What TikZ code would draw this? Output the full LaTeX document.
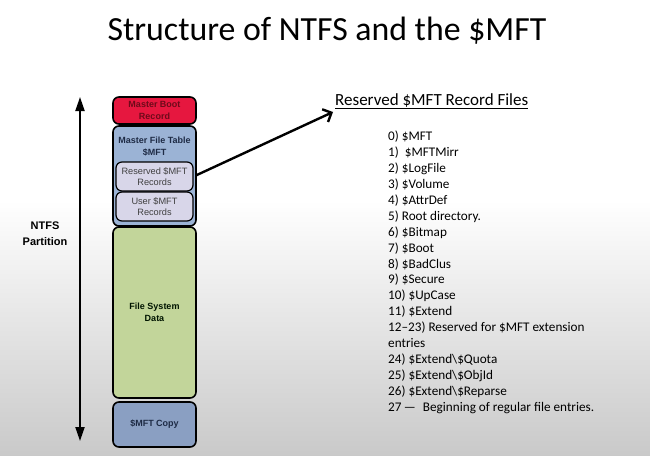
\documentclass[tikz,border=0pt]{standalone}
\usepackage{fontspec}
\setmainfont{Carlito}
\newfontfamily\arialfont{Liberation Sans}
\usepackage{tikz}
\usetikzlibrary{arrows.meta}
\pgfdeclarelayer{bglayer}
\pgfdeclarelayer{edgelayer}
\pgfdeclarelayer{nodelayer}
\pgfsetlayers{bglayer,edgelayer,nodelayer,main}
\definecolor{mbrred}{HTML}{E6173F}
\definecolor{mbrtext}{HTML}{6E0A1A}
\definecolor{mftblue}{HTML}{9BB3D5}
\definecolor{recfill}{HTML}{D8D6E9}
\definecolor{fsdgreen}{HTML}{C2D59A}
\definecolor{copyblue}{HTML}{8A9FC2}
\definecolor{navytext}{HTML}{1E2B45}
\tikzstyle{part}=[draw=black, line width=1.6pt, rounded corners=6pt, minimum width=83pt, inner sep=0pt, align=center, font=\arialfont\bfseries\fontsize{9}{12.5}\selectfont]
\tikzstyle{record}=[draw=black, line width=1.2pt, rounded corners=6pt, minimum width=77pt, minimum height=29pt, inner sep=0pt, align=center, fill=recfill, text=black!75, font=\arialfont\fontsize{9.2}{11.5}\selectfont]
\tikzstyle{bigarrow}=[draw=black, line width=2pt, {Triangle[length=14pt,width=9pt]}-{Triangle[length=14pt,width=9pt]}]
\tikzstyle{pointer}=[draw=black, line width=2.4pt, -{Straight Barb[length=7pt,width=14pt]}]

\begin{document}
\begin{tikzpicture}[x=1pt, y=-1pt]
					\useasboundingbox (0,0) rectangle (650,455);
					\begin{pgfonlayer}{bglayer}
						\fill [white] (0,0) rectangle (650,200);
						\shade [top color=white, bottom color=black!21] (0,200) rectangle (650,455);
					\end{pgfonlayer}
					\begin{pgfonlayer}{nodelayer}
						\node [anchor=base, font=\fontsize{33.8}{40}\selectfont] (title) at (327, 40) {Structure of NTFS and the \$MFT};
						\node [style=part, fill=mbrred, text=mbrtext, minimum height=27pt] (mbr) at (154.5, 110.5) {Master Boot\\Record};
						\node [style=part, fill=mftblue, minimum height=100pt] (mft) at (154.5, 176) {};
						\node [text=navytext, align=center, inner sep=0pt, font=\arialfont\bfseries\fontsize{9}{11.5}\selectfont] (mfttxt) at (154.5, 146.5) {Master File Table\\\$MFT};
						\node [style=record] (resv) at (154.5, 176.5) {Reserved \$MFT\\Records};
						\node [style=record] (user) at (154.5, 206.5) {User \$MFT\\Records};
						\node [style=part, fill=fsdgreen, text=black!80!green!40!black, minimum height=171pt] (fsd) at (154.5, 312.5) {File System\\Data};
						\node [style=part, fill=copyblue, text=navytext, minimum height=45pt] (copy) at (154.5, 424.5) {\$MFT Copy};
						\node [align=center, inner sep=0pt, font=\arialfont\bfseries\fontsize{11}{16}\selectfont] (ntfs) at (45, 234) {NTFS\\Partition};
						\node [anchor=base west, inner sep=0pt, font=\fontsize{17}{20}\selectfont] (head) at (335, 105) {\underline{Reserved \$MFT Record Files}};
						\node [anchor=north west, align=left, inner sep=0pt, font=\fontsize{13.2}{15.9}\selectfont] (list) at (388, 131) {0) \$MFT\\
1)~~\$MFTMirr\\
2) \$LogFile\\
3) \$Volume\\
4) \$AttrDef\\
5) Root directory.\\
6) \$Bitmap\\
7) \$Boot\\
8) \$BadClus\\
9) \$Secure\\
10) \$UpCase\\
11) \$Extend\\
12--23) Reserved for \$MFT extension\\
entries\\
24) \$Extend\textbackslash\$Quota\\
25) \$Extend\textbackslash\$ObjId\\
26) \$Extend\textbackslash\$Reparse\\
27\,---\hspace{0.55em}Beginning of regular file entries.};
					\end{pgfonlayer}
					\begin{pgfonlayer}{edgelayer}
						\coordinate (ptop) at (80, 97);
						\coordinate (pbot) at (80, 441);
						\coordinate (tip) at (333, 112);
						\draw [style=bigarrow] (pbot) to (ptop);
						\draw [style=pointer] (resv.east) to (tip);
					\end{pgfonlayer}
				\end{tikzpicture}
\end{document}
